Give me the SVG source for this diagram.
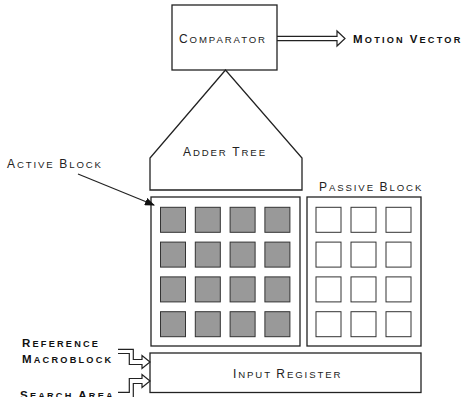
<svg xmlns="http://www.w3.org/2000/svg" width="463" height="397" viewBox="0 0 463 397">
<style>
.box{fill:#fff;stroke:#222;stroke-width:1.3}
.g{fill:#999;stroke:#333;stroke-width:1}
.w{fill:#fff;stroke:#333;stroke-width:1}
.t{font-family:"Liberation Sans",Arial,sans-serif;font-size:9.6px;letter-spacing:1.9px;fill:#222}
.b{font-family:"Liberation Sans",Arial,sans-serif;font-size:9.2px;font-weight:bold;letter-spacing:2.2px;fill:#111}
.t .c{font-size:12px}
.b .c{font-size:11.5px}
.ln{fill:none;stroke:#222;stroke-width:1.2}
</style>
<defs>
<marker id="ah" markerWidth="10" markerHeight="8" refX="9" refY="4" orient="auto" markerUnits="userSpaceOnUse">
<path d="M0,0 L10,4 L0,8 Z" fill="#111"/>
</marker>
<g id="gcell"><rect class="g" x="0" y="0" width="25" height="25"/></g>
<g id="wcell"><rect class="w" x="0" y="0" width="25" height="25"/></g>
</defs>

<g id="comparator">
<rect class="box" x="172" y="5" width="105" height="65"/>
<text class="t" x="179" y="43"><tspan class="c">C</tspan>OMPARATOR</text>
</g>

<g id="motion-vector">
<text class="b" x="353" y="43"><tspan class="c">M</tspan>OTION <tspan class="c">V</tspan>ECTOR</text>
</g>

<g id="adder-tree">
<path class="box" d="M225.5,70 L150,158 L150,190 L302,190 L302,158 Z"/>
<text class="t" x="183" y="156"><tspan class="c">A</tspan>DDER <tspan class="c">T</tspan>REE</text>
</g>

<g id="active-block">
<rect class="box" x="151" y="197" width="149" height="149"/>
<g transform="translate(160.5,207.3)">
<use href="#gcell" x="0" y="0"/><use href="#gcell" x="34.8" y="0"/><use href="#gcell" x="69.6" y="0"/><use href="#gcell" x="104.4" y="0"/>
<use href="#gcell" x="0" y="34.8"/><use href="#gcell" x="34.8" y="34.8"/><use href="#gcell" x="69.6" y="34.8"/><use href="#gcell" x="104.4" y="34.8"/>
<use href="#gcell" x="0" y="69.6"/><use href="#gcell" x="34.8" y="69.6"/><use href="#gcell" x="69.6" y="69.6"/><use href="#gcell" x="104.4" y="69.6"/>
<use href="#gcell" x="0" y="104.4"/><use href="#gcell" x="34.8" y="104.4"/><use href="#gcell" x="69.6" y="104.4"/><use href="#gcell" x="104.4" y="104.4"/>
</g>
</g>

<g id="active-block-label">
<text class="t" x="7" y="168"><tspan class="c">A</tspan>CTIVE <tspan class="c">B</tspan>LOCK</text>
</g>

<g id="passive-block">
<rect class="box" x="307" y="197" width="114" height="149"/>
<text class="t" x="319" y="191"><tspan class="c">P</tspan>ASSIVE <tspan class="c">B</tspan>LOCK</text>
<g transform="translate(316,207.3)">
<use href="#wcell" x="0" y="0"/><use href="#wcell" x="35" y="0"/><use href="#wcell" x="70" y="0"/>
<use href="#wcell" x="0" y="34.8"/><use href="#wcell" x="35" y="34.8"/><use href="#wcell" x="70" y="34.8"/>
<use href="#wcell" x="0" y="69.6"/><use href="#wcell" x="35" y="69.6"/><use href="#wcell" x="70" y="69.6"/>
<use href="#wcell" x="0" y="104.4"/><use href="#wcell" x="35" y="104.4"/><use href="#wcell" x="70" y="104.4"/>
</g>
</g>

<g id="input-register">
<rect class="box" x="150" y="353" width="271" height="39.5"/>
<text class="t" x="233" y="377.5"><tspan class="c">I</tspan>NPUT <tspan class="c">R</tspan>EGISTER</text>
</g>

<g id="reference-macroblock">
<text class="b" x="22" y="347"><tspan class="c">R</tspan>EFERENCE</text>
<text class="b" x="22" y="362.7"><tspan class="c">M</tspan>ACROBLOCK</text>
</g>

<g id="search-area">
<text class="b" x="20" y="399"><tspan class="c">S</tspan>EARCH <tspan class="c">A</tspan>REA</text>
</g>

<g id="connectors">
<path class="ln" d="M78,174 L154,205" marker-end="url(#ah)"/>
<path class="ln" d="M277,36.3 L337,36.3 L337,31 L345,38.5 L337,46 L337,40.7 L277,40.7"/>
<path class="ln" d="M118,349.3 L133.3,349.3 L133.3,359.5 L142,359.5 L142,355.5 L150,362 L142,368.5 L142,364.5 L129.3,364.5 L129.3,353.5 L118,353.5"/>
<path class="ln" d="M118,392.3 L129.3,392.3 L129.3,378.5 L142,378.5 L142,374.5 L150,381 L142,387.5 L142,383.5 L133.3,383.5 L133.3,398"/>
</g>
</svg>
